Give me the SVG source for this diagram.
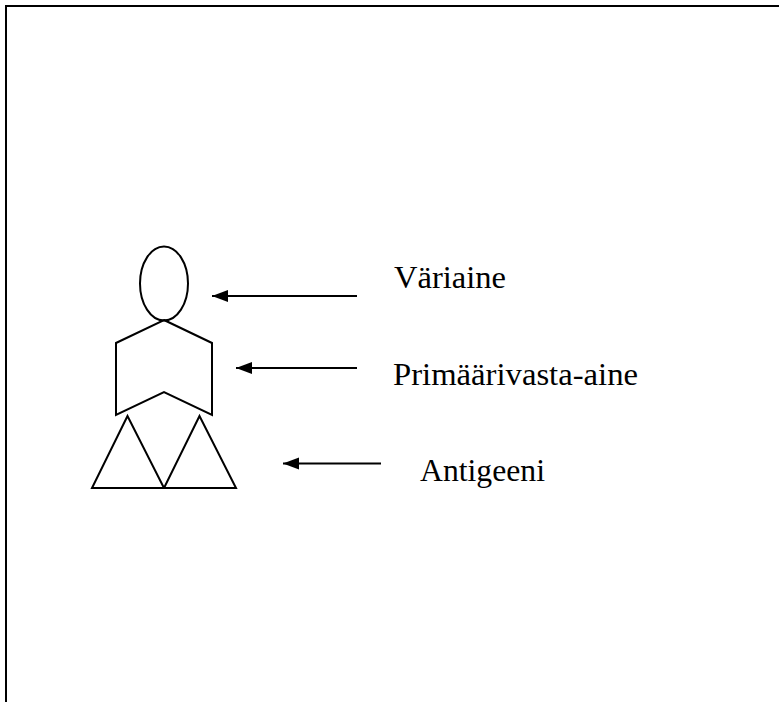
<svg xmlns="http://www.w3.org/2000/svg" width="779" height="702" viewBox="0 0 779 702">
<style>
.s{fill:none;stroke:#000;stroke-width:2}
.c{stroke:#000;stroke-width:2;fill:none}
.t{font-family:"Liberation Serif","Times New Roman",serif;font-size:32px;fill:#000}
</style>
<defs>
<marker id="ah" markerUnits="userSpaceOnUse" markerWidth="16" markerHeight="14" refX="16" refY="7" orient="auto">
<polygon points="0,1 16,7 0,13" fill="#000"/>
</marker>
</defs>
<rect width="779" height="702" fill="#fff"/>
<g id="frame"><polyline class="s" points="6,702 6,6 779,6"/></g>
<g id="dye"><ellipse class="s" cx="164" cy="283.5" rx="24" ry="37"/></g>
<g id="primary-antibody"><polygon class="s" points="164,320 212,343 212,415 164,392 116,415 116,343"/></g>
<g id="antigen">
<polygon class="s" points="127.5,416 92,488 164,488"/>
<polygon class="s" points="199.5,416 164,488 236,488"/>
</g>
<g id="connectors">
<line class="c" x1="357" y1="296" x2="212" y2="296" marker-end="url(#ah)"/>
<line class="c" x1="357" y1="368" x2="236" y2="368" marker-end="url(#ah)"/>
<line class="c" x1="381" y1="463.5" x2="283" y2="463.5" marker-end="url(#ah)"/>
</g>
<g id="labels">
<text class="t" x="394" y="288" textLength="112" lengthAdjust="spacingAndGlyphs">Väriaine</text>
<text class="t" x="393" y="385" textLength="245" lengthAdjust="spacingAndGlyphs">Primäärivasta-aine</text>
<text class="t" x="420" y="481" textLength="125" lengthAdjust="spacingAndGlyphs">Antigeeni</text>
</g>
</svg>
